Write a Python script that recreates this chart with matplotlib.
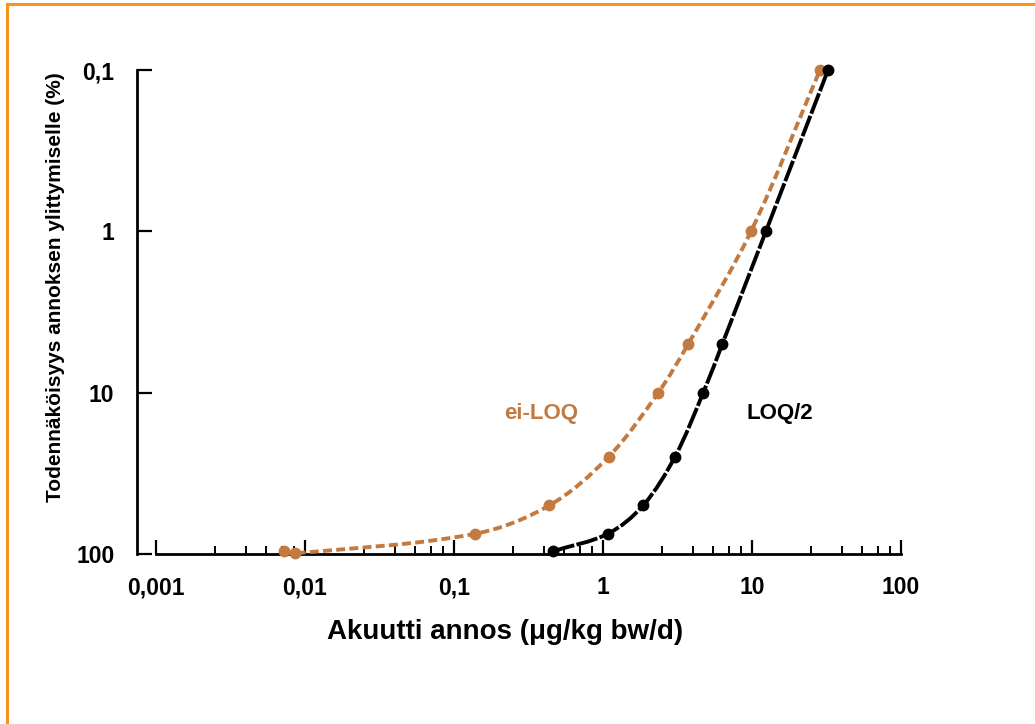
import numpy as np
import matplotlib
matplotlib.use("Agg")
import matplotlib.pyplot as plt
from matplotlib.lines import Line2D
from matplotlib.patches import PathPatch
from matplotlib.path import Path
from matplotlib.ticker import FixedLocator, NullFormatter


X_TICKS = [0.001, 0.01, 0.1, 1, 10, 100]
X_TICK_LABELS = ["0,001", "0,01", "0,1", "1", "10", "100"]
X_MINOR_SUBS = [2.5, 4, 5.5, 7, 8.5]
Y_TICKS = [0.1, 1, 10, 100]
Y_TICK_LABELS = ["0,1", "1", "10", "100"]

# ei-LOQ (orange, short dashes)
NO_LOQ_DOSE = [0.0072, 0.0086, 0.138, 0.436, 1.09, 2.35, 3.73, 9.85, 28.6]
NO_LOQ_PROB = [96, 99, 75, 50, 25, 10, 5, 1, 0.1]

# LOQ/2 (black, long dashes)
HALF_LOQ_DOSE = [0.464, 1.076, 1.86, 3.04, 4.71, 6.32, 12.4, 32.4]
HALF_LOQ_PROB = [96, 75, 50, 25, 10, 5, 1, 0.1]

ORANGE = "#C27A40"
FRAME_COLOR = "#F7941D"

plt.rcParams["font.family"] = ["Liberation Sans", "DejaVu Sans"]


def smooth_path(xs, ys, sx, sy):
    # Excel-like smoothed line: cubic Bezier segments in log space
    pts = np.column_stack([np.log10(xs) * sx, np.log10(ys) * sy])
    n = len(pts)
    tangents = []
    for i in range(n):
        a = pts[max(i - 1, 0)]
        b = pts[min(i + 1, n - 1)]
        d = b - a
        tangents.append(d / np.hypot(*d))

    verts = [pts[0]]
    codes = [Path.MOVETO]
    for i in range(n - 1):
        seg = np.hypot(*(pts[i + 1] - pts[i])) / 3
        verts += [pts[i] + tangents[i] * seg, pts[i + 1] - tangents[i + 1] * seg, pts[i + 1]]
        codes += [Path.CURVE4] * 3

    verts = np.array(verts)
    verts[:, 0] = 10 ** (verts[:, 0] / sx)
    verts[:, 1] = 10 ** (verts[:, 1] / sy)
    return Path(verts, codes)


fig = plt.figure(figsize=(10.35, 7.24), dpi=100)
ax = fig.add_axes([0.1507, 0.2348, 0.7198, 0.6685])

ax.set_xscale("log")
ax.set_yscale("log")
ax.set_xlim(0.001, 100)
ax.set_ylim(100, 0.1)

axes_w = 0.7198 * 1035
axes_h = 0.6685 * 724
sx = axes_w / 5
sy = axes_h / 3

series = [
    (NO_LOQ_DOSE, NO_LOQ_PROB, ORANGE, (0, (2.3, 1.1))),
    (HALF_LOQ_DOSE, HALF_LOQ_PROB, "black", (0, (5.6, 0.6))),
]
for dose, prob, color, style in series:
    patch = PathPatch(
        smooth_path(dose, prob, sx, sy),
        facecolor="none",
        edgecolor=color,
        linewidth=2.8,
        linestyle=style,
        clip_on=False,
        zorder=3,
    )
    ax.add_patch(patch)
    ax.plot(dose, prob, "o", color=color, markersize=7.5, clip_on=False, zorder=4)

for side in ["top", "right"]:
    ax.spines[side].set_visible(False)
ax.spines["left"].set_position(("outward", 14))
ax.spines["left"].set_linewidth(2)
ax.spines["bottom"].set_linewidth(2)

ax.set_xticks(X_TICKS)
ax.set_xticklabels(X_TICK_LABELS)
minor = [m * t for t in X_TICKS[:-1] for m in X_MINOR_SUBS]
ax.xaxis.set_minor_locator(FixedLocator(minor))
ax.xaxis.set_minor_formatter(NullFormatter())
ax.set_yticks(Y_TICKS)
ax.set_yticklabels(Y_TICK_LABELS)
ax.yaxis.set_minor_locator(FixedLocator([]))

ax.tick_params(axis="x", which="major", direction="in", length=10, width=1.6, pad=16,
               labelsize=16.5)
ax.tick_params(axis="x", which="minor", direction="in", length=5.5, width=1.4)
ax.tick_params(axis="y", which="major", direction="in", length=11, width=1.6, pad=16,
               labelsize=16.5)
for label in ax.get_xticklabels() + ax.get_yticklabels():
    label.set_fontweight("bold")

ax.set_xlabel("Akuutti annos (μg/kg bw/d)", fontsize=20, fontweight="bold")
ax.xaxis.set_label_coords(0.468, -0.134)
ax.set_ylabel("Todennäköisyys annoksen ylittymiselle (%)", fontsize=15, fontweight="bold")
ax.yaxis.set_label_coords(-0.122, 0.5506)

ax.text(0.384, 13.4, "ei-LOQ", color=ORANGE, fontsize=16, fontweight="bold",
        ha="center", va="center")
ax.text(15.4, 13.4, "LOQ/2", color="black", fontsize=16, fontweight="bold",
        ha="center", va="center")

# orange frame around the figure (top and left edges visible)
fig.add_artist(Line2D([7 / 1035, 1.0], [1 - 4 / 724, 1 - 4 / 724],
                      transform=fig.transFigure, color=FRAME_COLOR, linewidth=2.2))
fig.add_artist(Line2D([7 / 1035, 7 / 1035], [0.0, 1 - 4 / 724],
                      transform=fig.transFigure, color=FRAME_COLOR, linewidth=2.2))

fig.savefig("out.png", dpi=100)
